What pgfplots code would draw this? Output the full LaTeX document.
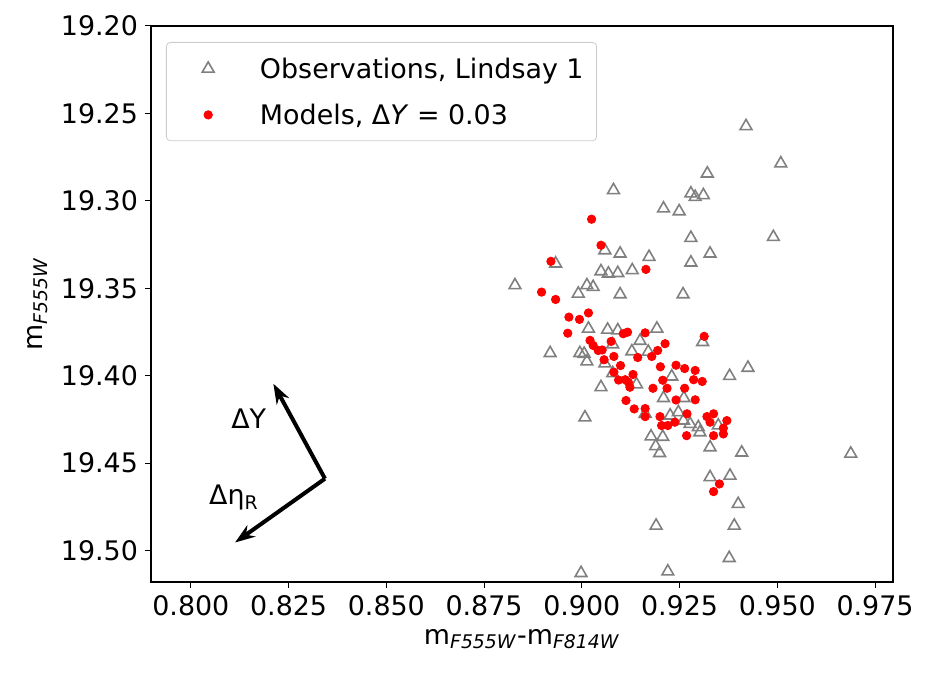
\documentclass[border=0pt]{standalone}
\usepackage{fontspec}
\setmainfont{DejaVu Sans}
\usepackage{pgfplots}
\pgfplotsset{compat=1.18}
\usetikzlibrary{arrows.meta}
\definecolor{obsgray}{HTML}{808080}
\definecolor{modred}{HTML}{FF0000}
\definecolor{legframe}{HTML}{CCCCCC}
\pgfplotstableread{
x y
0.9420 19.2573
0.9509 19.2786
0.9321 19.2844
0.9081 19.2939
0.9279 19.2958
0.9290 19.2978
0.9311 19.2968
0.9209 19.3044
0.9249 19.3060
0.9279 19.3212
0.9490 19.3207
0.9059 19.3283
0.9098 19.3302
0.9172 19.3321
0.9328 19.3302
0.8933 19.3359
0.9279 19.3353
0.9049 19.3403
0.9068 19.3416
0.9092 19.3413
0.9129 19.3397
0.8829 19.3483
0.8991 19.3531
0.9013 19.3483
0.9029 19.3493
0.9098 19.3535
0.9259 19.3535
0.9017 19.3731
0.9066 19.3737
0.9092 19.3741
0.9192 19.3731
0.9309 19.3808
0.8919 19.3871
0.8995 19.3871
0.9006 19.3875
0.9013 19.3919
0.9079 19.3821
0.9149 19.3801
0.9059 19.3930
0.9128 19.3861
0.9170 19.3863
0.9079 19.3986
0.9140 19.4050
0.9049 19.4066
0.9230 19.4005
0.9378 19.4002
0.9425 19.3955
0.9209 19.4128
0.9261 19.4128
0.9008 19.4239
0.9162 19.4218
0.9226 19.4228
0.9247 19.4209
0.9260 19.4257
0.9277 19.4276
0.9298 19.4295
0.9302 19.4324
0.9349 19.4285
0.9177 19.4348
0.9207 19.4350
0.9189 19.4403
0.9199 19.4443
0.9328 19.4410
0.9409 19.4440
0.9688 19.4446
0.9328 19.4581
0.9379 19.4572
0.9400 19.4734
0.9190 19.4858
0.9390 19.4858
0.9377 19.5043
0.8998 19.5129
0.9220 19.5120
}\obsdata
\pgfplotstableread{
x y
0.9025 19.3105
0.9049 19.3254
0.8921 19.3346
0.9164 19.3392
0.8897 19.3522
0.8933 19.3564
0.8967 19.3665
0.8994 19.3678
0.9017 19.3641
0.8964 19.3757
0.9106 19.3760
0.9117 19.3751
0.9162 19.3755
0.9021 19.3798
0.9029 19.3827
0.9042 19.3856
0.9052 19.3853
0.9075 19.3804
0.9213 19.3817
0.9194 19.3856
0.9179 19.3890
0.9143 19.3896
0.9057 19.3909
0.9082 19.3890
0.9099 19.3942
0.9082 19.3980
0.9131 19.3993
0.9201 19.3949
0.9241 19.3940
0.9263 19.3959
0.9290 19.3970
0.9286 19.4023
0.9308 19.4033
0.9313 19.3775
0.9207 19.4026
0.9094 19.4025
0.9111 19.4023
0.9119 19.4037
0.9123 19.4066
0.9182 19.4072
0.9218 19.4072
0.9263 19.4072
0.9241 19.4139
0.9290 19.4138
0.9113 19.4142
0.9134 19.4190
0.9162 19.4188
0.9162 19.4234
0.9200 19.4234
0.9269 19.4218
0.9204 19.4285
0.9220 19.4285
0.9238 19.4266
0.9268 19.4343
0.9320 19.4234
0.9337 19.4218
0.9328 19.4266
0.9371 19.4257
0.9362 19.4300
0.9362 19.4333
0.9337 19.4343
0.9352 19.4619
0.9337 19.4663
}\moddata
\begin{document}
\begin{tikzpicture}
\begin{axis}[
  scale only axis,
  width=371bp, height=278bp,
  xmin=0.7898, xmax=0.9796,
  ymin=19.2, ymax=19.518,
  y dir=reverse,
  xtick={0.8,0.825,0.85,0.875,0.9,0.925,0.95,0.975},
  ytick={19.2,19.25,19.3,19.35,19.4,19.45,19.5},
  xticklabel style={/pgf/number format/.cd,fixed,fixed zerofill,precision=3,assume math mode=true},
  yticklabel style={/pgf/number format/.cd,fixed,fixed zerofill,precision=2,assume math mode=true},
  scaled ticks=false,
  tick label style={font=\fontsize{13.5}{16}\selectfont, text=black},
  label style={font=\fontsize{13.5}{16}\selectfont},
  tick align=outside,
  xtick pos=bottom, ytick pos=left,
  major tick length=3bp,
  tick style={black, line width=0.5bp},
  axis line style={black, line width=0.6bp},
  xlabel={m\textsubscript{\textit{F555W}}-m\textsubscript{\textit{F814W}}},
  ylabel={m\textsubscript{\textit{F555W}}},
  legend cell align=left,
  legend style={
    at={(axis description cs:0,1)}, anchor=north west,
    xshift=7.5bp, yshift=-8bp,
    draw=legframe, rounded corners=2bp, fill=white,
    inner xsep=0pt, inner ysep=1.5bp,
    font=\fontsize{13.5}{16}\selectfont,
    nodes={inner sep=0pt, text height=16.15bp, text depth=6.35bp},
    row sep=0bp,
  },
  legend image code/.code={%
    \path (0bp,-11.25bp) (46bp,11.25bp);
    \draw[#1] plot coordinates {(20.5bp,0bp)};
  },
]
\addplot[only marks, mark=triangle, mark size=3.4bp, draw=obsgray, line width=0.8bp, mark options={fill=none, draw=obsgray}] table {\obsdata};
\addlegendentry{Observations, Lindsay 1\hspace*{6.5bp}}
\addplot[only marks, mark=*, mark size=2.1bp, draw=modred, fill=modred, mark options={draw=modred, fill=modred}] table {\moddata};
\addlegendentry{Models, Δ\textit{Y} = 0.03\hspace*{6.5bp}}

\draw[line width=2bp, -{Stealth[length=10bp,width=7bp]}] (axis cs:0.8343,19.4589) -- (axis cs:0.8211,19.4046);
\draw[line width=2bp, -{Stealth[length=10bp,width=7bp]}] (axis cs:0.8343,19.4589) -- (axis cs:0.8113,19.4954);
\node[font=\fontsize{13.5}{16}\selectfont] at (axis cs:0.8148,19.4245) {ΔY};
\node[font=\fontsize{13.5}{16}\selectfont] at (axis cs:0.8110,19.4698) {Δη\textsubscript{R}};
\end{axis}
\pgfresetboundingbox
\path (current axis.south west) ++(-75.5bp,-46.5bp) rectangle ([shift={(19.5bp,13bp)}]current axis.north east);
\end{tikzpicture}
\end{document}
